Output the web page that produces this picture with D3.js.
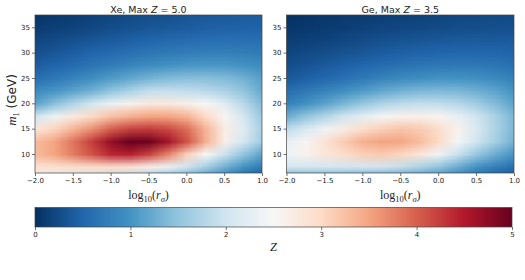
<!DOCTYPE html>
<html>
<head>
<meta charset="utf-8">
<script src="https://cdn.jsdelivr.net/npm/d3@7"></script>
<style>
body { margin: 0; background: #fff; }
svg text { font-family: "DejaVu Sans", sans-serif; fill: #222; }
.math { font-family: "Liberation Serif", "DejaVu Serif", serif; }
</style>
</head>
<body>
<svg id="fig" width="525" height="280"></svg>
<script>
// grid centres of the heat maps (log10 r_sigma, m_1 in GeV)
var xCenters = [-2, -1.75, -1.5, -1.25, -1, -0.75, -0.5, -0.25, 0, 0.25, 0.5, 0.75, 1];
var yCenters = [37.5, 35, 32.5, 30, 27.5, 25, 22.5, 20, 17.5, 15, 12.5, 10, 7.5, 5];

// Z, one row per yCenters entry
var xeZ = [
  [0.05,0.08,0.12,0.16,0.2,0.24,0.28,0.31,0.34,0.37,0.39,0.41,0.42],
  [0.1,0.14,0.18,0.22,0.27,0.31,0.35,0.38,0.41,0.44,0.46,0.47,0.47],
  [0.2,0.25,0.3,0.35,0.4,0.45,0.5,0.54,0.57,0.6,0.61,0.61,0.6],
  [0.3,0.36,0.43,0.5,0.56,0.62,0.68,0.72,0.76,0.78,0.79,0.77,0.74],
  [0.42,0.5,0.58,0.67,0.76,0.85,0.93,1.0,1.04,1.06,1.05,1.0,0.93],
  [0.6,0.7,0.82,0.95,1.08,1.2,1.32,1.4,1.44,1.44,1.4,1.3,1.12],
  [0.9,1.02,1.15,1.3,1.5,1.7,1.9,1.92,1.88,1.82,1.7,1.5,1.22],
  [1.15,1.45,1.75,2.05,2.35,2.6,2.75,2.75,2.65,2.5,2.2,1.8,1.4],
  [2.0,2.35,2.75,3.0,3.25,3.4,3.5,3.5,3.35,3.0,2.55,2.05,1.55],
  [2.8,3.05,3.35,3.65,4.0,4.2,4.25,4.15,3.9,3.35,2.7,2.2,1.65],
  [3.3,3.5,3.85,4.25,4.7,5.0,4.95,4.6,4.1,3.4,2.65,2.05,1.6],
  [3.3,3.5,3.8,4.1,4.4,4.45,4.2,3.75,3.1,2.5,1.95,1.5,1.15],
  [2.9,2.9,2.95,2.95,2.95,2.85,2.65,2.35,2.0,1.65,1.3,1.0,0.72],
  [2.3,2.2,2.05,1.95,1.8,1.6,1.4,1.2,1.0,0.8,0.55,0.4,0.3]
];
var geZ = [
  [0.03,0.05,0.07,0.09,0.11,0.13,0.15,0.17,0.19,0.21,0.23,0.24,0.25],
  [0.06,0.08,0.1,0.13,0.16,0.19,0.21,0.23,0.25,0.27,0.28,0.29,0.29],
  [0.12,0.15,0.18,0.22,0.26,0.3,0.33,0.35,0.37,0.39,0.4,0.4,0.4],
  [0.2,0.24,0.28,0.32,0.36,0.41,0.45,0.48,0.5,0.52,0.52,0.51,0.49],
  [0.28,0.33,0.39,0.45,0.52,0.58,0.64,0.68,0.71,0.72,0.71,0.68,0.62],
  [0.38,0.45,0.53,0.62,0.72,0.82,0.9,0.96,1.0,1.0,0.97,0.9,0.8],
  [0.6,0.7,0.82,0.95,1.08,1.2,1.3,1.36,1.38,1.36,1.28,1.16,1.0],
  [0.8,0.98,1.15,1.35,1.55,1.72,1.85,1.9,1.88,1.8,1.62,1.4,1.15],
  [1.25,1.5,1.75,2.0,2.25,2.45,2.6,2.62,2.55,2.3,2.0,1.68,1.35],
  [1.85,2.1,2.4,2.7,2.95,3.1,3.2,3.15,2.95,2.6,2.1,1.72,1.35],
  [2.3,2.55,2.85,3.15,3.4,3.5,3.48,3.3,3.0,2.45,2.0,1.65,1.3],
  [2.4,2.6,2.8,2.95,3.1,3.15,3.05,2.8,2.4,1.95,1.55,1.25,1.0],
  [2.05,2.05,2.05,2.05,2.05,2.0,1.9,1.72,1.5,1.25,0.98,0.78,0.6],
  [1.1,1.1,1.1,1.05,1.0,0.95,0.88,0.8,0.7,0.58,0.45,0.35,0.25]
];

var xTicks = [-2, -1.5, -1, -0.5, 0, 0.5, 1];
var yTicks = [10, 15, 20, 25, 30, 35];
var zTicks = [0, 1, 2, 3, 4, 5];
var panelNames = ["Xe", "Ge"];
var panelMax = ["5.0", "3.5"];

// RdBu_r, from Z = 0 to Z = 5
var rdbu = ["#053061","#2166ac","#4393c3","#92c5de","#d1e5f0","#f7f7f7",
            "#fddbc7","#f4a582","#d6604d","#b2182b","#67001f"];

var svg = d3.select("#fig");
var plotTop = 15, plotBottom = 173;
var panelLeft = [35, 286.5];
var panelRight = [262, 514];
var dx = 0.25, dy = 2.5;

var zColor = d3.scaleLinear()
  .domain(d3.range(rdbu.length).map(function(i){ return i * 5 / (rdbu.length - 1); }))
  .range(rdbu)
  .interpolate(d3.interpolateRgb)
  .clamp(true);

var y = d3.scaleLinear().domain([6.25, 37.43]).range([plotBottom, plotTop]);

function heatImage(z){
  var c = document.createElement("canvas");
  c.width = xCenters.length;
  c.height = yCenters.length;
  var ctx = c.getContext("2d");
  for (var j = 0; j < yCenters.length; j++){
    for (var i = 0; i < xCenters.length; i++){
      ctx.fillStyle = zColor(z[j][i]);
      ctx.fillRect(i, j, 1, 1);
    }
  }
  return c.toDataURL();
}

var defs = svg.append("defs");

[xeZ, geZ].forEach(function(z, p){
  var x = d3.scaleLinear().domain([-2, 1]).range([panelLeft[p], panelRight[p]]);
  var g = svg.append("g");

  defs.append("clipPath").attr("id", "clip" + p)
    .append("rect")
    .attr("x", x(-2)).attr("y", y(37.43))
    .attr("width", x(1) - x(-2)).attr("height", y(6.25) - y(37.43));

  var x0 = x(xCenters[0] - dx / 2), x1 = x(xCenters[xCenters.length - 1] + dx / 2);
  var yTop = y(yCenters[0] + dy / 2), yBot = y(yCenters[yCenters.length - 1] - dy / 2);
  g.append("image")
    .attr("href", heatImage(z))
    .attr("x", x0).attr("y", yTop)
    .attr("width", x1 - x0).attr("height", yBot - yTop)
    .attr("preserveAspectRatio", "none")
    .attr("clip-path", "url(#clip" + p + ")");

  var xAxis = d3.axisBottom(x).tickValues(xTicks).tickFormat(d3.format(".1f"))
    .tickSize(3).tickSizeOuter(0).tickPadding(2);
  var gx = g.append("g").attr("transform", "translate(0," + plotBottom + ")").call(xAxis);
  var yAxis = d3.axisLeft(y).tickValues(yTicks).tickSize(3).tickSizeOuter(0).tickPadding(2);
  var gy = g.append("g").attr("transform", "translate(" + x(-2) + ",0)").call(yAxis);
  [gx, gy].forEach(function(a){
    a.select(".domain").remove();
    a.selectAll("line").attr("stroke", "#333").attr("stroke-width", 0.7);
    a.selectAll("text").style("font-size", "7px").attr("fill", "#222");
  });

  g.append("rect")
    .attr("x", x(-2)).attr("y", plotTop)
    .attr("width", x(1) - x(-2)).attr("height", plotBottom - plotTop)
    .attr("fill", "none").attr("stroke", "#444").attr("stroke-width", 0.7);

  var title = g.append("text")
    .attr("x", (x(-2) + x(1)) / 2).attr("y", 12.5)
    .attr("text-anchor", "middle").style("font-size", "9.5px");
  title.append("tspan").text(panelNames[p] + ", Max ");
  title.append("tspan").style("font-style", "italic").text("Z");
  title.append("tspan").text(" = " + panelMax[p]);

  var xl = g.append("text").attr("class", "math")
    .attr("x", (x(-2) + x(1)) / 2).attr("y", 199)
    .attr("text-anchor", "middle").style("font-size", "12px");
  xl.append("tspan").text("log");
  xl.append("tspan").attr("dy", 2.5).style("font-size", "8.5px").text("10");
  xl.append("tspan").attr("dy", -2.5).text("(");
  xl.append("tspan").style("font-style", "italic").text("r");
  xl.append("tspan").attr("dy", 2.5).style("font-size", "8.5px").style("font-style", "italic").text("σ");
  xl.append("tspan").attr("dy", -2.5).text(")");
});

// y label
var yl = svg.append("text")
  .attr("transform", "translate(16,100) rotate(-90)")
  .attr("text-anchor", "middle").style("font-size", "12px");
yl.append("tspan").attr("class", "math").style("font-style", "italic").style("font-size", "13px").text("m");
yl.append("tspan").attr("class", "math").attr("dy", 2.5).style("font-size", "8.5px").text("1");
yl.append("tspan").attr("dy", -2.5).text(" (GeV)");

// colour bar
var cb = { left: 35, right: 512, top: 207.5, bottom: 227 };
var zScale = d3.scaleLinear().domain([0, 5]).range([cb.left, cb.right]);
var grad = defs.append("linearGradient").attr("id", "cbgrad")
  .attr("x1", "0%").attr("x2", "100%").attr("y1", "0%").attr("y2", "0%");
grad.selectAll("stop").data(zColor.domain()).enter().append("stop")
  .attr("offset", function(d){ return (d / 5 * 100) + "%"; })
  .attr("stop-color", function(d){ return zColor(d); });
svg.append("rect")
  .attr("x", cb.left).attr("y", cb.top)
  .attr("width", cb.right - cb.left).attr("height", cb.bottom - cb.top)
  .attr("fill", "url(#cbgrad)").attr("stroke", "#444").attr("stroke-width", 0.7);
var gz = svg.append("g").attr("transform", "translate(0," + cb.bottom + ")")
  .call(d3.axisBottom(zScale).tickValues(zTicks).tickFormat(d3.format("d"))
    .tickSize(3).tickSizeOuter(0).tickPadding(2));
gz.select(".domain").remove();
gz.selectAll("line").attr("stroke", "#333").attr("stroke-width", 0.7);
gz.selectAll("text").style("font-size", "7px").attr("fill", "#222");

svg.append("text").attr("class", "math")
  .attr("x", zScale(2.5)).attr("y", 251)
  .attr("text-anchor", "middle").style("font-size", "12.5px").style("font-style", "italic")
  .text("Z");
</script>
</body>
</html>
